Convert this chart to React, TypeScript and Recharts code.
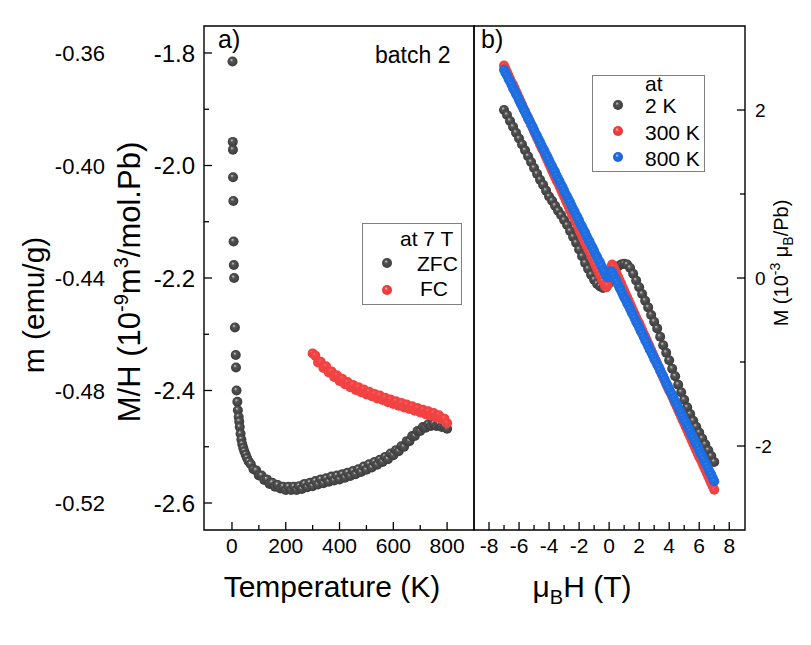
import { Legend, ReferenceArea, Scatter, ScatterChart, XAxis, YAxis } from "recharts";

const FONT = "'Liberation Sans', Arial, sans-serif";

// a) ZFC / FC susceptibility at 7 T (batch 2)
const zfcT = [
  2, 3, 3.5, 4, 5, 6, 7, 8, 11, 14, 15, 17, 20, 22, 25, 27, 29, 32, 35, 38, 42, 46, 51, 56, 62,
  70, 80, 90, 100, 110, 120, 130, 140, 150, 160, 170, 180, 190, 200, 210, 220, 230, 240, 250,
  260, 270, 280, 290, 300, 310, 320, 330, 340, 350, 360, 370, 380, 390, 400, 410, 420, 430,
  440, 450, 460, 470, 480, 490, 500, 510, 520, 530, 540, 550, 560, 570, 580, 590, 600, 610,
  620, 630, 640, 650, 660, 670, 680, 690, 700, 710, 720, 730, 740, 750, 760, 770, 780, 790, 800,
];
const zfcMH = [
  -1.815, -1.958, -1.972, -2.021, -2.063, -2.135, -2.177, -2.2, -2.288, -2.337, -2.359, -2.4,
  -2.42, -2.435, -2.447, -2.455, -2.465, -2.477, -2.487, -2.495, -2.502, -2.508, -2.514, -2.52,
  -2.526, -2.531, -2.54, -2.542, -2.551, -2.551, -2.559, -2.558, -2.566, -2.564, -2.571, -2.568,
  -2.574, -2.571, -2.577, -2.571, -2.577, -2.571, -2.577, -2.57, -2.575, -2.566, -2.572, -2.564,
  -2.57, -2.561, -2.567, -2.558, -2.565, -2.556, -2.562, -2.553, -2.56, -2.551, -2.558, -2.549,
  -2.555, -2.546, -2.552, -2.543, -2.549, -2.54, -2.545, -2.535, -2.541, -2.531, -2.537, -2.527,
  -2.532, -2.523, -2.527, -2.518, -2.522, -2.512, -2.515, -2.506, -2.508, -2.499, -2.5, -2.49,
  -2.49, -2.481, -2.481, -2.472, -2.472, -2.465, -2.466, -2.46, -2.463, -2.459, -2.463, -2.46,
  -2.465, -2.464, -2.468,
];
const fcT = [
  300, 310, 320, 330, 340, 350, 360, 370, 380, 390, 400, 410, 420, 430, 440, 450, 460, 470, 480,
  490, 500, 510, 520, 530, 540, 550, 560, 570, 580, 590, 600, 610, 620, 630, 640, 650, 660, 670,
  680, 690, 700, 710, 720, 730, 740, 750, 760, 770, 780, 790, 800,
];
const fcMH = [
  -2.334, -2.338, -2.35, -2.349, -2.36, -2.357, -2.368, -2.366, -2.376, -2.373, -2.383, -2.379,
  -2.389, -2.385, -2.394, -2.39, -2.399, -2.394, -2.403, -2.398, -2.407, -2.402, -2.41, -2.406,
  -2.414, -2.409, -2.417, -2.413, -2.421, -2.416, -2.424, -2.419, -2.427, -2.422, -2.43, -2.425,
  -2.433, -2.428, -2.436, -2.431, -2.439, -2.434, -2.442, -2.437, -2.445, -2.44, -2.448, -2.444,
  -2.451, -2.45, -2.458,
];

// b) M(H) loops
const hFine = [
  -7, -6.9, -6.8, -6.7, -6.6, -6.5, -6.4, -6.3, -6.2, -6.1, -6, -5.9, -5.8, -5.7, -5.6, -5.5,
  -5.4, -5.3, -5.2, -5.1, -5, -4.9, -4.8, -4.7, -4.6, -4.5, -4.4, -4.3, -4.2, -4.1, -4, -3.9,
  -3.8, -3.7, -3.6, -3.5, -3.4, -3.3, -3.2, -3.1, -3, -2.9, -2.8, -2.7, -2.6, -2.5, -2.4, -2.3,
  -2.2, -2.1, -2, -1.9, -1.8, -1.7, -1.6, -1.5, -1.4, -1.3, -1.2, -1.1, -1, -0.9, -0.8, -0.7,
  -0.6, -0.5, -0.4, -0.3, -0.2, -0.1, 0, 0.1, 0.2, 0.3, 0.4, 0.5, 0.6, 0.7, 0.8, 0.9, 1, 1.1,
  1.2, 1.3, 1.4, 1.5, 1.6, 1.7, 1.8, 1.9, 2, 2.1, 2.2, 2.3, 2.4, 2.5, 2.6, 2.7, 2.8, 2.9, 3,
  3.1, 3.2, 3.3, 3.4, 3.5, 3.6, 3.7, 3.8, 3.9, 4, 4.1, 4.2, 4.3, 4.4, 4.5, 4.6, 4.7, 4.8, 4.9,
  5, 5.1, 5.2, 5.3, 5.4, 5.5, 5.6, 5.7, 5.8, 5.9, 6, 6.1, 6.2, 6.3, 6.4, 6.5, 6.6, 6.7, 6.8,
  6.9, 7,
];
const m300K = [
  2.53, 2.49, 2.45, 2.41, 2.37, 2.33, 2.3, 2.26, 2.22, 2.18, 2.14, 2.1, 2.06, 2.02, 1.98, 1.94,
  1.91, 1.87, 1.83, 1.79, 1.75, 1.71, 1.67, 1.63, 1.59, 1.55, 1.52, 1.48, 1.44, 1.4, 1.36, 1.32,
  1.28, 1.24, 1.2, 1.16, 1.13, 1.09, 1.05, 1.01, 0.97, 0.93, 0.89, 0.85, 0.81, 0.77, 0.74, 0.7,
  0.66, 0.62, 0.58, 0.54, 0.5, 0.46, 0.42, 0.38, 0.35, 0.31, 0.27, 0.23, 0.19, 0.15, 0.11, 0.07,
  0.03, -0.01, -0.04, -0.08, -0.11, -0.09, 0.02, 0.12, 0.16, 0.13, 0.09, 0.05, 0.01, -0.03,
  -0.07, -0.11, -0.15, -0.19, -0.23, -0.27, -0.31, -0.35, -0.39, -0.43, -0.47, -0.51, -0.54,
  -0.58, -0.62, -0.66, -0.7, -0.74, -0.78, -0.82, -0.86, -0.9, -0.94, -0.98, -1.02, -1.06,
  -1.1, -1.14, -1.18, -1.22, -1.26, -1.3, -1.34, -1.37, -1.41, -1.45, -1.49, -1.53, -1.57,
  -1.61, -1.65, -1.69, -1.73, -1.77, -1.81, -1.85, -1.89, -1.93, -1.97, -2.01, -2.05, -2.09,
  -2.13, -2.16, -2.2, -2.24, -2.28, -2.32, -2.36, -2.4, -2.44, -2.48, -2.52,
];
const m800K = [
  2.48, 2.44, 2.41, 2.37, 2.34, 2.3, 2.26, 2.23, 2.19, 2.16, 2.12, 2.08, 2.05, 2.01, 1.98, 1.94,
  1.9, 1.87, 1.83, 1.8, 1.76, 1.72, 1.69, 1.65, 1.62, 1.58, 1.54, 1.51, 1.47, 1.44, 1.4, 1.36,
  1.33, 1.29, 1.26, 1.22, 1.18, 1.15, 1.11, 1.08, 1.04, 1.0, 0.97, 0.93, 0.9, 0.86, 0.82, 0.79,
  0.75, 0.72, 0.68, 0.64, 0.61, 0.57, 0.54, 0.5, 0.46, 0.43, 0.39, 0.36, 0.32, 0.28, 0.25, 0.21,
  0.18, 0.14, 0.1, 0.07, 0.03, 0.01, 0.04, 0.08, 0.07, 0.03, -0.01, -0.04, -0.08, -0.12, -0.15,
  -0.19, -0.23, -0.26, -0.3, -0.33, -0.37, -0.41, -0.44, -0.48, -0.52, -0.55, -0.59, -0.63,
  -0.66, -0.7, -0.74, -0.77, -0.81, -0.85, -0.88, -0.92, -0.96, -0.99, -1.03, -1.06, -1.1,
  -1.14, -1.17, -1.21, -1.25, -1.28, -1.32, -1.36, -1.39, -1.43, -1.47, -1.5, -1.54, -1.58,
  -1.61, -1.65, -1.69, -1.72, -1.76, -1.79, -1.83, -1.87, -1.9, -1.94, -1.98, -2.01, -2.05,
  -2.09, -2.12, -2.16, -2.2, -2.23, -2.27, -2.31, -2.34, -2.38, -2.42,
];
const h2K = [
  -7, -6.8, -6.6, -6.4, -6.2, -6, -5.8, -5.6, -5.4, -5.2, -5, -4.8, -4.6, -4.4, -4.2, -4, -3.8,
  -3.6, -3.4, -3.2, -3, -2.8, -2.6, -2.4, -2.2, -2, -1.8, -1.6, -1.4, -1.2, -1, -0.8, -0.6, -0.4,
  -0.2, 0, 0.2, 0.4, 0.6, 0.8, 1, 1.2, 1.4, 1.6, 1.8, 2, 2.2, 2.4, 2.6, 2.8, 3, 3.2, 3.4, 3.6,
  3.8, 4, 4.2, 4.4, 4.6, 4.8, 5, 5.2, 5.4, 5.6, 5.8, 6, 6.2, 6.4, 6.6, 6.8, 7,
];
const m2K = [
  2.0, 1.94, 1.87, 1.8, 1.73, 1.66, 1.59, 1.52, 1.45, 1.38, 1.31, 1.24, 1.17, 1.11, 1.04, 0.97,
  0.92, 0.86, 0.8, 0.75, 0.69, 0.63, 0.56, 0.49, 0.42, 0.34, 0.26, 0.18, 0.11, 0.04, -0.02,
  -0.07, -0.1, -0.12, -0.11, -0.06, 0.03, 0.1, 0.14, 0.16, 0.17, 0.16, 0.12, 0.05, -0.03,
  -0.11, -0.19, -0.27, -0.35, -0.44, -0.52, -0.6, -0.7, -0.8, -0.89, -0.98, -1.08, -1.17,
  -1.27, -1.36, -1.45, -1.54, -1.62, -1.7, -1.77, -1.84, -1.91, -1.98, -2.05, -2.12, -2.19,
];

const tempTicks = [0, 100, 200, 300, 400, 500, 600, 700, 800];
const mhTicks = [-2.6, -2.5, -2.4, -2.3, -2.2, -2.1, -2.0, -1.9, -1.8];
const mTicks = [-0.52, -0.48, -0.44, -0.4, -0.36];
const fieldTicks = [-8, -7, -6, -5, -4, -3, -2, -1, 0, 1, 2, 3, 4, 5, 6, 7, 8];
const momentTicks = [-2, -1, 0, 1, 2];

const zip = (xs: number[], ys: number[], kx: string, ky: string) =>
  xs.slice(0, ys.length).map((v, i) => ({ [kx]: v, [ky]: ys[i] }));

const zfc = zip(zfcT, zfcMH, "t", "mh");
const fc = zip(fcT, fcMH, "t", "mh");
const loop2K = zip(h2K, m2K, "h", "m");
const loop300K = zip(hFine, m300K, "h", "m");
const loop800K = zip(hFine, m800K, "h", "m");

const tickLine = { stroke: "#000", strokeWidth: 1.3 };

function TempTick({ x, y, payload }: any) {
  const v = payload.value;
  const major = v % 200 === 0;
  return (
    <g>
      <line x1={x} y1={y} x2={x} y2={y - (major ? 8 : 5)} {...tickLine} />
      {major && (
        <text x={x} y={y + 23} textAnchor="middle" fontSize={21} fontFamily={FONT}>
          {v}
        </text>
      )}
    </g>
  );
}

function MHTick({ x, y, payload }: any) {
  const v = payload.value;
  const major = Math.round(v * 10) % 2 === 0;
  return (
    <g>
      <line x1={x} y1={y} x2={x + (major ? 8 : 5)} y2={y} {...tickLine} />
      {major && (
        <text x={x - 9} y={y + 8.5} textAnchor="end" fontSize={24} fontFamily={FONT}>
          {v.toFixed(1)}
        </text>
      )}
    </g>
  );
}

function MassTick({ x, y, payload }: any) {
  return (
    <text x={x - 5} y={y + 8} textAnchor="end" fontSize={22} fontFamily={FONT}>
      {payload.value.toFixed(2)}
    </text>
  );
}

function FieldTick({ x, y, payload }: any) {
  const v = payload.value;
  const major = v % 2 === 0;
  return (
    <g>
      <line x1={x} y1={y} x2={x} y2={y - (major ? 8 : 5)} {...tickLine} />
      {major && (
        <text x={x} y={y + 23} textAnchor="middle" fontSize={21} fontFamily={FONT}>
          {v}
        </text>
      )}
    </g>
  );
}

function MomentTick({ x, y, payload }: any) {
  const v = payload.value;
  const major = v % 2 === 0;
  return (
    <g>
      <line x1={x} y1={y} x2={x - (major ? 8 : 5)} y2={y} {...tickLine} />
      {major && (
        <text x={x + 10} y={y + 7} textAnchor="start" fontSize={19} fontFamily={FONT}>
          {v}
        </text>
      )}
    </g>
  );
}

const ball = (id: string) => (p: any) =>
  <circle cx={p.cx} cy={p.cy} r={5} fill={`url(#${id})`} />;

function ZfcLegend() {
  return (
    <svg width={100} height={82} style={{ display: "block", overflow: "visible" }} fontFamily={FONT} fontSize={21}>
      <rect x={0.5} y={0.5} width={99} height={81} fill="#fff" stroke="#808080" />
      <text x={38} y={23}>at 7 T</text>
      <circle cx={25} cy={40} r={5} fill="url(#ballGray)" />
      <text x={55} y={48}>ZFC</text>
      <circle cx={25} cy={67} r={5} fill="url(#ballRed)" />
      <text x={58} y={73}>FC</text>
    </svg>
  );
}

function LoopLegend() {
  return (
    <svg width={113} height={97} style={{ display: "block", overflow: "visible" }} fontFamily={FONT} fontSize={21}>
      <rect x={0.5} y={0.5} width={112} height={96} fill="#fff" stroke="#808080" />
      <text x={53} y={16}>at</text>
      <circle cx={26} cy={30} r={5} fill="url(#ballGray)" />
      <text x={53} y={38}>2 K</text>
      <circle cx={26} cy={56} r={5} fill="url(#ballRed)" />
      <text x={53} y={65}>300 K</text>
      <circle cx={26} cy={82} r={5} fill="url(#ballBlue)" />
      <text x={53} y={91}>800 K</text>
    </svg>
  );
}

function Gradient({ id, hi, mid, edge }: { id: string; hi: string; mid: string; edge: string }) {
  return (
    <radialGradient id={id} cx="50%" cy="50%" r="55%" fx="38%" fy="32%">
      <stop offset="0%" stopColor={hi} />
      <stop offset="30%" stopColor={mid} />
      <stop offset="100%" stopColor={edge} />
    </radialGradient>
  );
}

export default function App() {
  return (
    <div style={{ position: "absolute", left: 0, top: 0, width: 811, height: 645, background: "#fff" }}>
      <div style={{ position: "absolute", left: 0, top: 0 }}>
        <ScatterChart width={480} height={645} margin={{ top: 26, right: 6, bottom: 75, left: 0 }}>
          <XAxis
            xAxisId="t"
            type="number"
            dataKey="t"
            domain={[-104, 900]}
            ticks={tempTicks}
            interval={0}
            tick={(p: any) => <TempTick {...p} />}
            tickSize={0}
            tickMargin={0}
            tickLine={false}
            axisLine={false}
            height={40}
            allowDataOverflow
          />
          <YAxis
            yAxisId="inner"
            type="number"
            dataKey="mh"
            domain={[-2.648, -1.752]}
            ticks={mhTicks}
            interval={0}
            tick={(p: any) => <MHTick {...p} />}
            tickSize={0}
            tickMargin={0}
            tickLine={false}
            axisLine={false}
            width={94}
            allowDataOverflow
          />
          {/* outer mass-normalised scale */}
          <YAxis
            yAxisId="outer"
            type="number"
            domain={[-0.5296, -0.3504]}
            ticks={mTicks}
            interval={0}
            tick={(p: any) => <MassTick {...p} />}
            tickSize={0}
            tickMargin={0}
            tickLine={false}
            axisLine={false}
            width={110}
            allowDataOverflow
          />
          <ReferenceArea
            xAxisId="t"
            yAxisId="inner"
            x1={-104}
            x2={900}
            y1={-2.648}
            y2={-1.752}
            fill="none"
            stroke="#000"
            strokeWidth={1.4}
            fillOpacity={0}
            ifOverflow="visible"
          />
          <Scatter xAxisId="t" yAxisId="inner" name="ZFC" data={zfc} shape={ball("ballGray")} isAnimationActive={false} />
          <Scatter xAxisId="t" yAxisId="inner" name="FC" data={fc} shape={ball("ballRedFlat")} isAnimationActive={false} />
          <Legend
            layout="vertical"
            align="center"
            verticalAlign="middle"
            content={() => <ZfcLegend />}
            wrapperStyle={{ position: "absolute", left: 362, top: 223, width: 100, height: 82 }}
          />
        </ScatterChart>
      </div>

      <div style={{ position: "absolute", left: 470, top: 0 }}>
        <ScatterChart width={341} height={645} margin={{ top: 26, right: 36, bottom: 75, left: 4 }}>
          <XAxis
            xAxisId="h"
            type="number"
            dataKey="h"
            domain={[-9, 9.05]}
            ticks={fieldTicks}
            interval={0}
            tick={(p: any) => <FieldTick {...p} />}
            tickSize={0}
            tickMargin={0}
            tickLine={false}
            axisLine={false}
            height={40}
            allowDataOverflow
          />
          <YAxis
            yAxisId="m"
            orientation="right"
            type="number"
            dataKey="m"
            domain={[-3, 3]}
            ticks={momentTicks}
            interval={0}
            tick={(p: any) => <MomentTick {...p} />}
            tickSize={0}
            tickMargin={0}
            tickLine={false}
            axisLine={false}
            width={30}
            allowDataOverflow
          />
          <ReferenceArea
            xAxisId="h"
            yAxisId="m"
            x1={-9}
            x2={9.05}
            y1={-3}
            y2={3}
            fill="none"
            fillOpacity={0}
            stroke="#000"
            strokeWidth={1.4}
            ifOverflow="visible"
          />
          <Scatter xAxisId="h" yAxisId="m" name="2 K" data={loop2K} shape={ball("ballGray")} isAnimationActive={false} />
          <Scatter xAxisId="h" yAxisId="m" name="300 K" data={loop300K} shape={ball("ballRedFlat")} isAnimationActive={false} />
          <Scatter xAxisId="h" yAxisId="m" name="800 K" data={loop800K} shape={ball("ballBlueFlat")} isAnimationActive={false} />
          <Legend
            layout="vertical"
            align="center"
            verticalAlign="middle"
            content={() => <LoopLegend />}
            wrapperStyle={{ position: "absolute", left: 122, top: 75, width: 113, height: 97 }}
          />
        </ScatterChart>
      </div>

      <svg
        width={811}
        height={645}
        style={{ position: "absolute", left: 0, top: 0, pointerEvents: "none" }}
        fontFamily={FONT}
      >
        <defs>
          <Gradient id="ballGray" hi="#d0d0d0" mid="#555555" edge="#383838" />
          <Gradient id="ballRed" hi="#ffd6d6" mid="#f44444" edge="#e03434" />
          <Gradient id="ballBlue" hi="#d6e6ff" mid="#1f6fe3" edge="#1a60cc" />
          <Gradient id="ballRedFlat" hi="#f86a6a" mid="#f44444" edge="#ef4040" />
          <Gradient id="ballBlueFlat" hi="#3f84ea" mid="#1f6fe3" edge="#1d6bdf" />
        </defs>
        <text x={218} y={48} fontSize={25}>a)</text>
        <text x={375} y={63} fontSize={23}>batch 2</text>
        <text x={481} y={48} fontSize={25}>b)</text>
        <text transform="translate(44,305) rotate(-90)" textAnchor="middle" fontSize={30}>
          m (emu/g)
        </text>
        <text transform="translate(140,282) rotate(-90)" textAnchor="middle" fontSize={31}>
          M/H (10<tspan dy={-12} fontSize={20}>-9</tspan>
          <tspan dy={12}>m</tspan>
          <tspan dy={-12} fontSize={20}>3</tspan>
          <tspan dy={12}>/mol.Pb)</tspan>
        </text>
        <text x={332} y={597} textAnchor="middle" fontSize={30}>
          Temperature (K)
        </text>
        <text x={582} y={597} textAnchor="middle" fontSize={30}>
          μ<tspan dy={7} fontSize={20}>B</tspan>
          <tspan dy={-7}>H (T)</tspan>
        </text>
        <text transform="translate(788,263) rotate(-90)" textAnchor="middle" fontSize={20}>
          M (10<tspan dy={-8} fontSize={14}>-3</tspan>
          <tspan dy={8}> μ</tspan>
          <tspan dy={5} fontSize={14}>B</tspan>
          <tspan dy={-5}>/Pb)</tspan>
        </text>
      </svg>
    </div>
  );
}
